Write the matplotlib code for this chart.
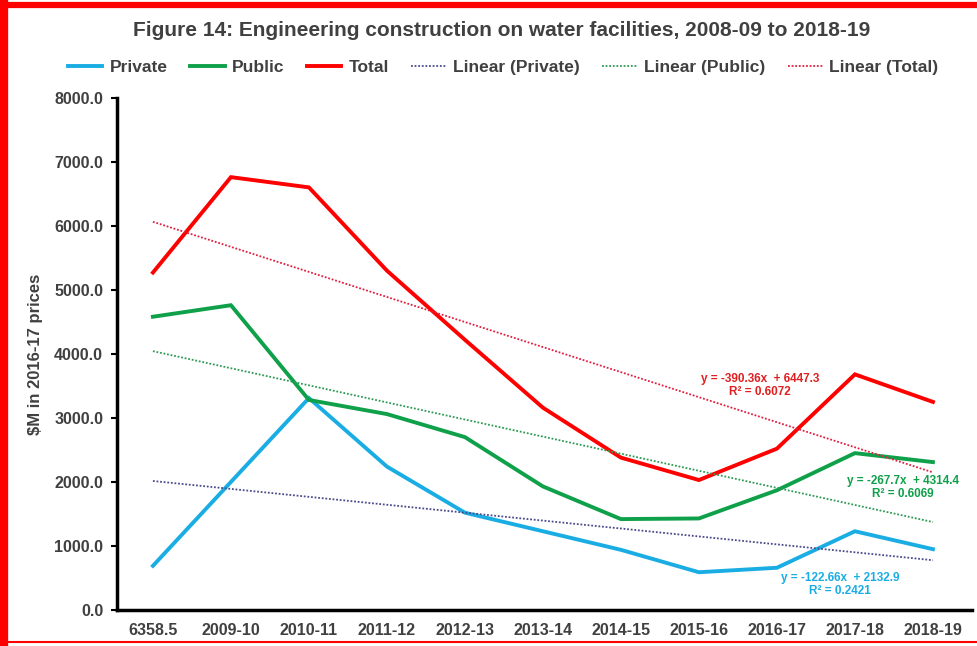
import numpy as np
import matplotlib.pyplot as plt
from matplotlib.lines import Line2D

plt.rcParams['font.family'] = ['Liberation Sans', 'DejaVu Sans']

# 数据
years = ['6358.5', '2009-10', '2010-11', '2011-12', '2012-13', '2013-14',
         '2014-15', '2015-16', '2016-17', '2017-18', '2018-19']
private = [690, 2000, 3310, 2240, 1520, 1230, 940, 590, 660, 1230, 950]
public = [4580, 4760, 3280, 3060, 2700, 1930, 1420, 1430, 1870, 2450, 2310]
total = [5270, 6760, 6600, 5300, 4220, 3160, 2380, 2030, 2520, 3680, 3250]
eq_text = ['y = -122.66x  + 2132.9\nR² = 0.2421',
           'y = -267.7x  + 4314.4\nR² = 0.6069',
           'y = -390.36x  + 6447.3\nR² = 0.6072']

grey = '#404040'
fig = plt.figure(figsize=(9.77, 6.46), dpi=100)
ax = fig.add_axes([0.1198, 0.0557, 0.875, 0.793])

xx = np.arange(len(years))
series = [('Private', private, '#1AADE4', '#4B4A8C'),
          ('Public', public, '#0FA04A', '#2E9A55'),
          ('Total', total, '#FF0000', '#E02040')]

handles_main = []
handles_trend = []
for name, vals, col, tcol in series:
    h, = ax.plot(xx, vals, color=col, lw=2.8, label=name, solid_joinstyle='miter')
    handles_main.append(h)
for name, vals, col, tcol in series:
    # 线性趋势线
    k, b = np.polyfit(xx + 1, vals, 1)
    t, = ax.plot(xx, k * (xx + 1) + b, color=tcol, lw=1.3, ls=(0, (1, 1)),
                 label='Linear (%s)' % name)
    handles_trend.append(t)

# 趋势线公式
ax.text(8.81, 400, eq_text[0], color='#1AADE4', fontsize=8.5, fontweight='bold',
        ha='center', va='center', linespacing=1.1)
ax.text(9.62, 1920, eq_text[1], color='#0FA04A', fontsize=8.5, fontweight='bold',
        ha='center', va='center', linespacing=1.1)
ax.text(7.78, 3510, eq_text[2], color='#E02020', fontsize=8.5, fontweight='bold',
        ha='center', va='center', linespacing=1.1)

ax.set_xlim(-0.46, 10.5)
ax.set_ylim(0, 8000)
ax.set_xticks(xx)
ax.set_xticklabels(years)
ax.set_yticks(range(0, 8001, 1000))
ax.set_yticklabels(['%.1f' % v for v in range(0, 8001, 1000)])
ax.tick_params(axis='x', length=0, pad=9, labelsize=11.5, labelcolor=grey)
ax.tick_params(axis='y', length=4, width=1.5, pad=6, labelsize=11.5, labelcolor=grey)
for lab in ax.get_xticklabels() + ax.get_yticklabels():
    lab.set_fontweight('bold')
ax.set_ylabel('$M in 2016-17 prices', fontsize=12, color=grey, fontweight='bold', labelpad=8)

for s in ['top', 'right']:
    ax.spines[s].set_visible(False)
for s in ['left', 'bottom']:
    ax.spines[s].set_linewidth(2.5)
    ax.spines[s].set_color('black')

fig.text(0.513, 0.953, 'Figure 14: Engineering construction on water facilities, 2008-09 to 2018-19',
         ha='center', va='center', fontsize=15, fontweight='bold', color=grey)
fig.legend(handles=handles_main + handles_trend, loc='center', bbox_to_anchor=(0.515, 0.896),
           ncol=6, frameon=False, fontsize=12.5, handlelength=2.0, handletextpad=0.4,
           columnspacing=1.3, labelcolor=grey)
for txt in fig.legends[0].get_texts():
    txt.set_fontweight('bold')

# 红色边框
fig.add_artist(Line2D([0, 1], [0.9915, 0.9915], color='#FF0000', lw=4.5, transform=fig.transFigure))
fig.add_artist(Line2D([0.004, 0.004], [0.003, 0.995], color='#FF0000', lw=6, transform=fig.transFigure))
fig.add_artist(Line2D([0, 1], [0.006, 0.006], color='#FF0000', lw=1.5, transform=fig.transFigure))

plt.savefig('out.png', dpi=100)
